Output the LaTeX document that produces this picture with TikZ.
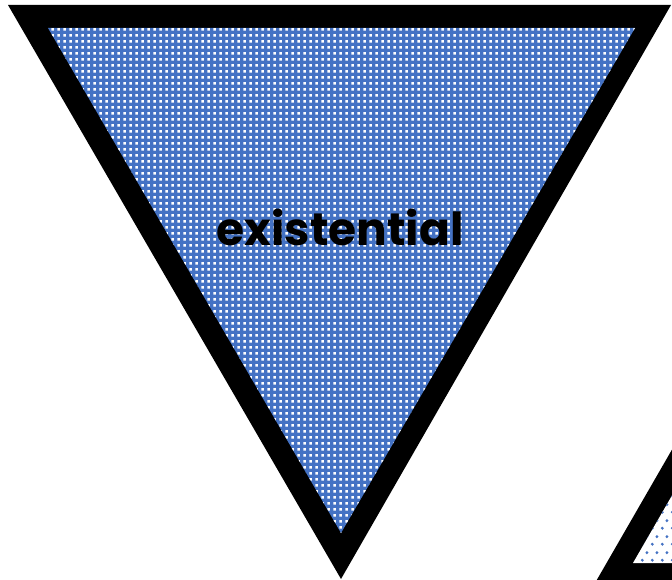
\documentclass[tikz,border=0pt]{standalone}
\usepackage{fontspec}
\setmainfont{Poppins}
\usetikzlibrary{patterns.meta}

\definecolor{accentblue}{HTML}{4472C4}

\tikzdeclarepattern{
  name=gridspots,
  type=uncolored,
  bounding box={(0pt,0pt) and (5.6pt,5.6pt)},
  tile size={(5.6pt,5.6pt)},
  code={\fill (1.4pt,1.4pt) rectangle (4.2pt,4.2pt);}
}
\tikzdeclarepattern{
  name=loosespots,
  type=uncolored,
  bounding box={(0pt,0pt) and (10pt,16pt)},
  tile size={(10pt,16pt)},
  code={\fill (2.5pt,4pt) circle (1.7pt); \fill (7.5pt,12pt) circle (1.7pt);}
}

\tikzset{
  frame/.style={fill=black},
  bluearea/.style={fill=accentblue, postaction={pattern=gridspots, pattern color=white}},
  whitearea/.style={fill=white, postaction={pattern=loosespots, pattern color=accentblue}},
  label/.style={font=\bfseries\fontsize{45.5}{45.5}\selectfont, text=black, inner sep=0pt, anchor=base}
}

\begin{document}
\begin{tikzpicture}[x=1pt, y=-1pt]
  \useasboundingbox (0,0) rectangle (672,580);
  \clip (0,0) rectangle (672,580);

  % big triangle
  \fill[frame] (8,5) -- (671,5) -- (341,579) -- cycle;
  \fill[bluearea] (48,28) -- (635,28) -- (341,533) -- cycle;
  \node[label] (word) at (340,245) {existential};

  % corner triangle
  \fill[frame] (591,590) -- (760,297) -- (900,590) -- cycle;
  \fill[whitearea] (633,563) -- (730,395) -- (830,563) -- cycle;
\end{tikzpicture}
\end{document}
